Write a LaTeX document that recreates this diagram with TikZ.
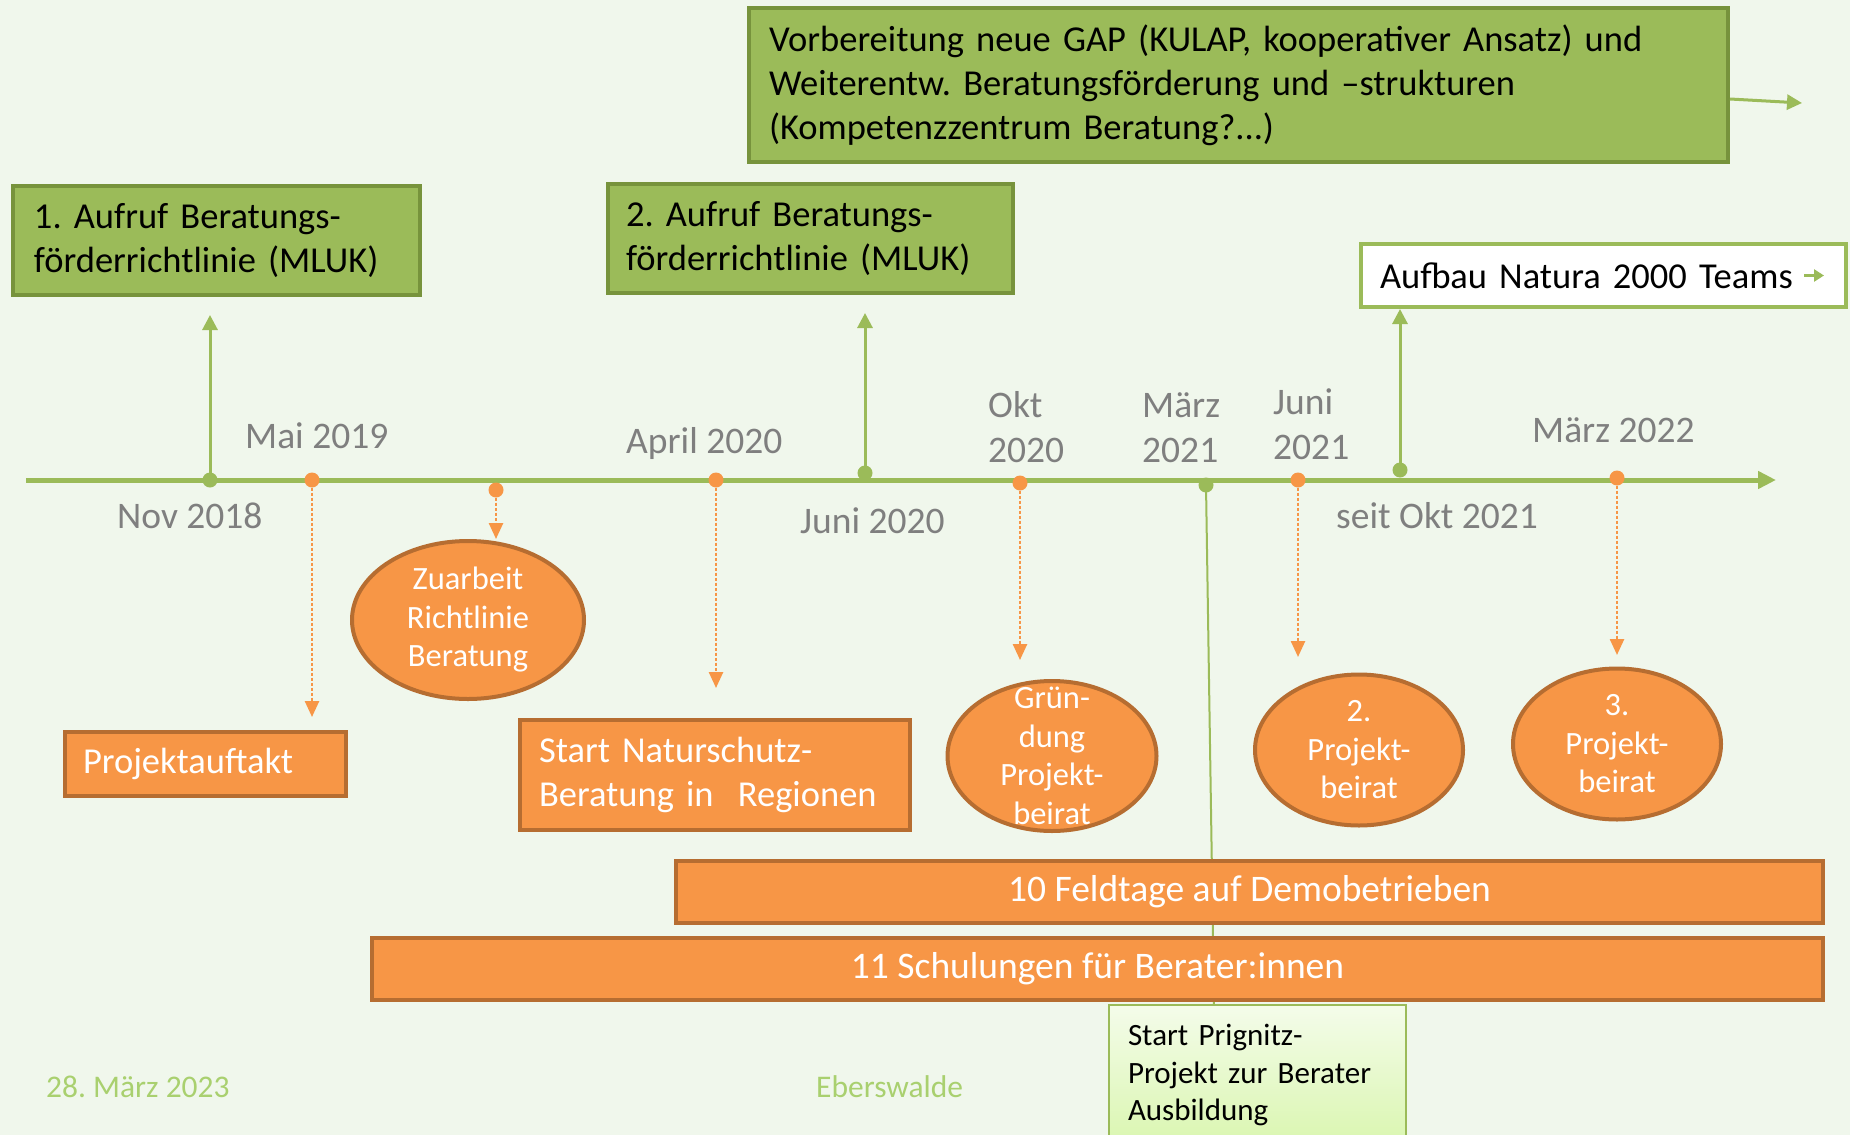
\documentclass[tikz,border=0pt]{standalone}
\usepackage{fontspec}
\setmainfont{Carlito}
\usetikzlibrary{arrows.meta,shapes.geometric}
\definecolor{bg}{RGB}{240,247,236}
\definecolor{gfill}{RGB}{155,187,89}
\definecolor{gdraw}{RGB}{119,147,60}
\definecolor{ofill}{RGB}{247,150,70}
\definecolor{odraw}{RGB}{182,109,49}
\definecolor{datec}{RGB}{127,127,127}
\definecolor{footc}{RGB}{169,208,111}
\definecolor{pTop}{RGB}{244,252,234}
\definecolor{pBot}{RGB}{218,246,176}
\begin{document}
\frenchspacing
\begin{tikzpicture}[x=1pt,y=-1pt,
  gbox/.style={rectangle,draw=gdraw,fill=gfill,line width=4pt,align=left,text=black,
    font=\fontsize{36.5}{44}\selectfont},
  obox/.style={rectangle,draw=odraw,fill=ofill,line width=4pt,align=left,text=white,
    font=\fontsize{36.5}{44.5}\selectfont},
  obar/.style={rectangle,draw=odraw,fill=ofill,line width=3.5pt,align=center,text=white,
    font=\fontsize{37.5}{44}\selectfont,inner sep=0pt},
  oell/.style={ellipse,draw=odraw,fill=ofill,line width=4pt,inner sep=0pt},
  elltext/.style={align=center,text=white,font=\fontsize{32.5}{38.5}\selectfont,inner sep=0pt},
  datelbl/.style={align=left,text=datec,font=\fontsize{37.5}{45}\selectfont,inner sep=0pt,anchor=base west},
  footlbl/.style={text=footc,font=\fontsize{31.5}{36}\selectfont,inner sep=0pt,anchor=base west},
  gdot/.style={circle,fill=gfill,inner sep=0pt,minimum size=15pt},
  odot/.style={circle,fill=ofill,inner sep=0pt,minimum size=15pt},
  garrow/.style={draw=gfill,line width=3pt,-{Triangle[length=15pt,width=15pt]}},
  oarrow/.style={draw=ofill,line width=2.5pt,dash pattern=on 3pt off 2pt,-{Triangle[length=16pt,width=14pt]}},
]
\useasboundingbox (0,0) rectangle (1850,1135);
\fill[bg] (0,0) rectangle (1850,1135);

% timeline
\coordinate (tlstart) at (26,480);
\coordinate (tlend) at (1776,480);
\draw[draw=gfill,line width=5pt,-{Triangle[length=18pt,width=17pt]}] (tlstart) -- (tlend);

% dots
\node[gdot] (dNov) at (210,480) {};
\node[odot] (dMai) at (312,480) {};
\node[odot] (dZu) at (496,490) {};
\node[odot] (dApr) at (716,480) {};
\node[gdot] (dJun20) at (865,473) {};
\node[odot] (dOkt) at (1020,483) {};
\node[gdot] (dMar21) at (1206,485) {};
\node[odot] (dJun21) at (1298,480) {};
\node[gdot] (dOkt21) at (1400,470) {};
\node[odot] (dMar22) at (1617,478) {};

% Prignitz box and green line behind bars
\node[rectangle,draw=gfill,line width=1.5pt,top color=pTop,bottom color=pBot,
  minimum width=297pt,minimum height=140pt,inner xsep=19pt,text width=259pt,align=left,
  font=\fontsize{31}{37.5}\selectfont] (prig) at (1257.5,1075)
  {Start Prignitz-\\Projekt zur Berater\\Ausbildung};
\draw[draw=gfill,line width=2pt] (dMar21.center) -- (1214,1005);

% bars
\node[obar,minimum width=1147pt,minimum height=62pt] (feld) at (1249.5,892) {10 Feldtage auf Demobetrieben};
\node[obar,minimum width=1451pt,minimum height=62pt] (schul) at (1097.5,969) {11 Schulungen für Berater:innen};

% green boxes
\node[gbox,minimum width=979pt,minimum height=154pt,inner xsep=20pt,text width=939pt] (gap) at (1238.5,85)
  {Vorbereitung neue GAP (KULAP, kooperativer Ansatz) und\\Weiterentw. Beratungsförderung und –strukturen\\(Kompetenzzentrum Beratung?...)};
\node[gbox,minimum width=407pt,minimum height=109pt,inner xsep=21pt,text width=365pt] (auf1) at (216.5,240.5)
  {1. Aufruf Beratungs-\\förderrichtlinie (MLUK)};
\node[gbox,minimum width=405pt,minimum height=109pt,inner xsep=18pt,text width=369pt] (auf2) at (810.5,238.5)
  {2. Aufruf Beratungs-\\förderrichtlinie (MLUK)};
\node[rectangle,draw=gfill,fill=white,line width=4pt,minimum width=485pt,minimum height=63pt,
  inner xsep=19pt,text width=447pt,align=left,font=\fontsize{36.5}{44}\selectfont] (natura) at (1603.5,275.5)
  {Aufbau Natura 2000 Teams};
\draw[draw=gfill,line width=3pt,-{Triangle[length=10pt,width=12pt]}] ([xshift=-44pt]natura.east) -- ([xshift=-24pt]natura.east);

% orange boxes
\node[obox,minimum width=281pt,minimum height=64pt,inner xsep=18pt,text width=245pt] (auftakt) at (205.5,764) {Projektauftakt};
\node[obox,minimum width=390pt,minimum height=110pt,inner xsep=19pt,text width=352pt] (natsch) at (715,775)
  {Start Naturschutz-\\Beratung in\ \ Regionen};

% ellipses
\node[oell,minimum width=232pt,minimum height=158pt] (zuarb) at (468,620) {};
\node[elltext] at (zuarb.center) {Zuarbeit\\Richtlinie\\Beratung};
\node[oell,minimum width=209pt,minimum height=150pt] (grund) at (1052,756) {};
\node[elltext] at (grund.center) {Grün-\\dung\\Projekt-\\beirat};
\node[oell,minimum width=208pt,minimum height=151pt] (pb2) at (1359,750) {};
\node[elltext] at (pb2.center) {2.\\Projekt-\\beirat};
\node[oell,minimum width=208pt,minimum height=151pt] (pb3) at (1617,744) {};
\node[elltext] at (pb3.center) {3.\\Projekt-\\beirat};

% green arrows
\coordinate (eNov) at (210,315);
\coordinate (eJun20) at (865,313);
\draw[garrow] (dNov.center) -- (eNov);
\draw[garrow] (dJun20.center) -- (eJun20);
\draw[garrow] (dOkt21.center) -- (dOkt21 |- natura.south);
\coordinate (eGap) at (1802,103);
\draw[garrow] ([yshift=-14pt]gap.east) -- (eGap);

% orange dotted arrows
\coordinate (eMai) at (312,717);
\coordinate (eApr) at (716,688);
\coordinate (eOkt) at (1020,660);
\coordinate (eJun21) at (1298,657);
\coordinate (eMar22) at (1617,655);
\draw[oarrow] (dMai.south) -- (eMai);
\draw[oarrow] (dZu.south) -- (dZu |- zuarb.north);
\draw[oarrow] (dApr.south) -- (eApr);
\draw[oarrow] (dOkt.south) -- (eOkt);
\draw[oarrow] (dJun21.south) -- (eJun21);
\draw[oarrow] (dMar22.south) -- (eMar22);

% date labels
\node[datelbl] (lNov) at (117,528) {Nov 2018};
\node[datelbl] (lMai) at (245,448) {Mai 2019};
\node[datelbl] (lApr) at (626,453) {April 2020};
\node[datelbl] (lJun20) at (800,533) {Juni 2020};
\node[datelbl] (lOkt) at (988,462) {Okt\\2020};
\node[datelbl] (lMar21) at (1142,462) {März\\2021};
\node[datelbl] (lJun21) at (1273,459) {Juni\\2021};
\node[datelbl] (lMar22) at (1532,442) {März 2022};
\node[datelbl] (lOkt21) at (1336,528) {seit Okt 2021};

% footer
\node[footlbl] (fDate) at (46,1097) {28. März 2023};
\node[footlbl] (fOrt) at (816,1097) {Eberswalde};
\end{tikzpicture}
\end{document}
